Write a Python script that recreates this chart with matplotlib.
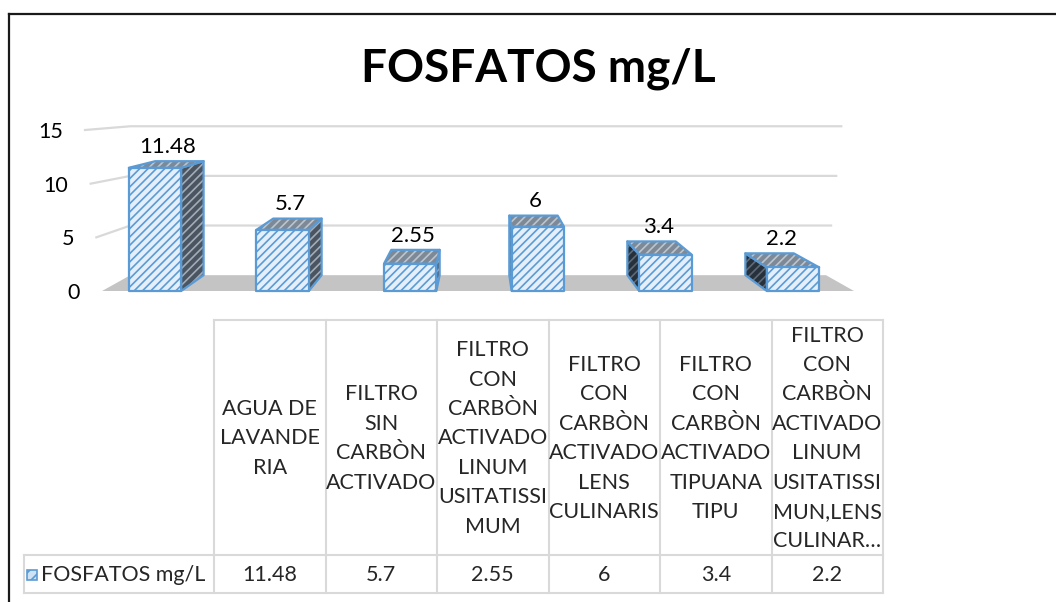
import matplotlib
matplotlib.use("Agg")
import matplotlib.pyplot as plt
from matplotlib.patches import Polygon, Rectangle
from matplotlib.lines import Line2D

plt.rcParams['font.family'] = ['Lato', 'DejaVu Sans']
plt.rcParams['hatch.linewidth'] = 1.2

# ---------------- data ----------------
title = "FOSFATOS mg/L"
series_name = "FOSFATOS mg/L"
categories = [
    "AGUA DE\nLAVANDE\nRIA",
    "FILTRO\nSIN\nCARBÒN\nACTIVADO",
    "FILTRO\nCON\nCARBÒN\nACTIVADO\nLINUM\nUSITATISSI\nMUM",
    "FILTRO\nCON\nCARBÒN\nACTIVADO\nLENS\nCULINARIS",
    "FILTRO\nCON\nCARBÒN\nACTIVADO\nTIPUANA\nTIPU",
    "FILTRO\nCON\nCARBÒN\nACTIVADO\nLINUM\nUSITATISSI\nMUN,LENS\nCULINAR…",
]
values = [11.48, 5.7, 2.55, 6, 3.4, 2.2]
value_labels = ["11.48", "5.7", "2.55", "6", "3.4", "2.2"]
yticks = [0, 5, 10, 15]

# ---------------- figure ----------------
W, H = 1056, 602
fig = plt.figure(figsize=(W / 100, H / 100), dpi=100)

# overlay axes in pixel coordinates for frame / title / table
ov = fig.add_axes([0, 0, 1, 1], zorder=0)
ov.set_xlim(0, W)
ov.set_ylim(H, 0)
ov.axis('off')

# chart frame (top and left edges visible)
ov.plot([9, W], [14, 14], color='#1a1a1a', lw=1.6)
ov.plot([9, 9], [14, H], color='#1a1a1a', lw=1.6)

ov.text(538, 81, title, ha='center', va='baseline', fontsize=33,
        fontweight='bold', color='#000000')

# ---------------- plot axes (front plane) ----------------
px_per_cat = 127.6
x0_px = 155.0
xmin, xmax = -0.6, 5.6
left_px = x0_px + px_per_cat * xmin
right_px = x0_px + px_per_cat * xmax
y0_px, y15_px = 291.0, 130.0
ax = fig.add_axes([left_px / W, 1 - y0_px / H, (right_px - left_px) / W,
                   (y0_px - y15_px) / H], zorder=2)
ax.set_xlim(xmin, xmax)
ax.set_ylim(0, 15)
ax.axis('off')

# perspective parameters (vanishing point in data coords, depth scale)
xV, yV, s = 2.55, 19.66, 0.925


def back(x, y):
    return xV + s * (x - xV), yV + s * (y - yV)


floor_x0, floor_x1 = -0.415, 5.478
slant = 0.0089  # left wall slant per value unit

# floor
fl = [(floor_x0, 0), (floor_x1, 0), back(floor_x1, 0), back(floor_x0, 0)]
ax.add_patch(Polygon(fl, closed=True, facecolor='#c4c4c4', edgecolor='none',
                     zorder=1, clip_on=False))

# gridlines + tick labels
for v in yticks:
    xl = floor_x0 - slant * v
    bl = back(floor_x0, v)
    br = back(floor_x1, v)
    if v > 0:
        ax.add_line(Line2D([xl, bl[0], br[0] + 0.008 * v], [v, bl[1], br[1]],
                           color='#d9d9d9', lw=1.6, zorder=0.5, clip_on=False))
    ax.annotate(str(v), (xl, v), xytext=(-16, -1.5), textcoords='offset points',
                ha='right', va='center', fontsize=15.5, color='#000000',
                annotation_clip=False)

# bars
hw = 0.205
edge = '#5B9BD5'
for i, v in enumerate(values):
    fl_, fr_ = i - hw, i + hw
    bfl0, bfr0 = back(fl_, 0), back(fr_, 0)
    bflv, bfrv = back(fl_, v), back(fr_, v)
    # side face
    if i < xV:
        side = [(fr_, 0), (fr_, v), bfrv, bfr0]
        sface, shatch = '#4a5561', '#a3adb8'
    else:
        side = [(fl_, 0), (fl_, v), bflv, bfl0]
        sface, shatch = '#27313c', '#5e6a78'
    top = [(fl_, v), (fr_, v), bfrv, bflv]
    front = [(fl_, 0), (fr_, 0), (fr_, v), (fl_, v)]
    z = 3 + (0 if i < xV else (10 - i))
    for poly, fc, hc, hatch, zz in [(side, sface, shatch, '////', z),
                                    (top, '#7d8996', '#bcc4cd', '////', z + 0.1),
                                    (front, '#e4eff9', edge, '////', z + 0.2)]:
        ax.add_patch(Polygon(poly, closed=True, facecolor=fc, edgecolor=hc,
                             hatch=hatch, lw=0, zorder=zz, clip_on=False))
        ax.add_patch(Polygon(poly, closed=True, fill=False, edgecolor=edge,
                             lw=1.6, joinstyle='round', zorder=zz + 0.05,
                             clip_on=False))
    lx = (i + (bflv[0] + bfrv[0]) / 2) / 2
    ax.annotate(value_labels[i], (lx, bflv[1]), xytext=(0, 3),
                textcoords='offset points', ha='center', va='bottom',
                fontsize=16, color='#000000', annotation_clip=False, zorder=20)

# ---------------- data table ----------------
col0, colw = 214.0, 111.5
ytop, ymid, ybot = 320.0, 555.0, 593.0
leg_left = 24.0
gc = '#d9d9d9'
ncol = len(categories)
xr = col0 + colw * ncol
ov.plot([col0, xr], [ytop, ytop], color=gc, lw=1.5)
ov.plot([leg_left, xr], [ymid, ymid], color=gc, lw=1.5)
ov.plot([leg_left, xr], [ybot, ybot], color=gc, lw=1.5)
ov.plot([leg_left, leg_left], [ymid, ybot], color=gc, lw=1.5)
for k in range(ncol + 1):
    xk = col0 + colw * k
    ov.plot([xk, xk], [ytop, ybot], color=gc, lw=1.5)

for k, (cat, lab) in enumerate(zip(categories, value_labels)):
    xc = col0 + colw * (k + 0.5)
    ov.text(xc, (ytop + ymid) / 2 + 1, cat, ha='center', va='center',
            multialignment='center', fontsize=15.5, color='#262626',
            linespacing=1.585)
    ov.text(xc, (ymid + ybot) / 2 + 1, lab, ha='center', va='center',
            fontsize=15.5, color='#262626')

# legend key
ov.add_patch(Rectangle((27, 570), 10, 10, facecolor='#cfe2f3', edgecolor=edge,
                       hatch='///', lw=0))
ov.add_patch(Rectangle((27, 570), 10, 10, fill=False, edgecolor=edge, lw=1.2))
ov.text(41, (ymid + ybot) / 2 + 1, series_name, ha='left', va='center',
        fontsize=15.5, color='#262626')

fig.savefig("out.png", dpi=100)
